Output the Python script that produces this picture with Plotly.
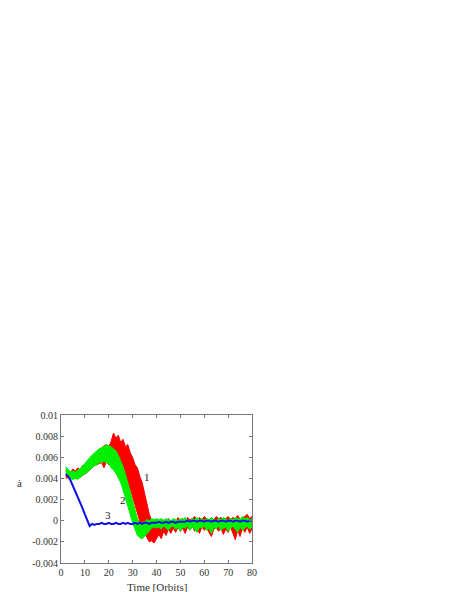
import plotly.graph_objects as go

# time in orbits, one sample per orbit
time = list(range(2, 81))

# curve 1 (red) noisy band: upper / lower envelope
red_upper = [0.0048, 0.0047, 0.0046, 0.0049, 0.0047, 0.0050, 0.0048, 0.0052, 0.0051, 0.0055,
             0.0058, 0.0061, 0.0060, 0.0065, 0.0066, 0.0069, 0.0071, 0.0072, 0.0070, 0.0075,
             0.0083, 0.0078, 0.0081, 0.0074, 0.0077, 0.0070, 0.0072, 0.0064, 0.0060, 0.0053,
             0.0050, 0.0042, 0.0036, 0.0026, 0.0016, 0.0006, 0.0000, -0.0003, -0.0002,
             -0.0001, -0.0003, 0.0001, -0.0002, 0.0002, -0.0001, 0.0001, -0.0002, 0.0003, 0.0000,
             0.0002, -0.0001, 0.0003, 0.0001, 0.0002, 0.0004, 0.0000, 0.0003, 0.0001, 0.0004,
             0.0002, 0.0000, 0.0003, 0.0001, 0.0004, 0.0002, 0.0003, 0.0000, 0.0002, 0.0004,
             0.0001, 0.0003, 0.0002, 0.0005, 0.0001, 0.0003, 0.0004, 0.0006, 0.0002, 0.0004]
red_lower = [0.0040, 0.0041, 0.0039, 0.0041, 0.0040, 0.0042, 0.0041, 0.0043, 0.0044, 0.0046,
             0.0048, 0.0050, 0.0052, 0.0053, 0.0054, 0.0055, 0.0050, 0.0056, 0.0053, 0.0057,
             0.0055, 0.0058, 0.0054, 0.0052, 0.0047, 0.0042, 0.0036, 0.0030, 0.0022, 0.0014,
             0.0006, -0.0002, -0.0008, -0.0012, -0.0016, -0.0020, -0.0019, -0.0021, -0.0017,
             -0.0013, -0.0017, -0.0010, -0.0014, -0.0008, -0.0012, -0.0007, -0.0011, -0.0006, -0.0010,
             -0.0007, -0.0012, -0.0006, -0.0009, -0.0005, -0.0010, -0.0007, -0.0012, -0.0006, -0.0009,
             -0.0007, -0.0011, -0.0015, -0.0008, -0.0006, -0.0010, -0.0007, -0.0013, -0.0008, -0.0011,
             -0.0006, -0.0012, -0.0018, -0.0009, -0.0015, -0.0007, -0.0011, -0.0006, -0.0012, -0.0008]

# curve 2 (green) noisy band
green_upper = [0.0051, 0.0048, 0.0046, 0.0047, 0.0046, 0.0048, 0.0049, 0.0052, 0.0054, 0.0057,
               0.0060, 0.0062, 0.0064, 0.0066, 0.0068, 0.0069, 0.0070, 0.0072, 0.0071, 0.0070,
               0.0068, 0.0066, 0.0062, 0.0057, 0.0051, 0.0044, 0.0036, 0.0028, 0.0019, 0.0010,
               0.0002, -0.0002, -0.0002, -0.0001, 0.0001, 0.0000, 0.0002, 0.0001, 0.0002,
               0.0001, 0.0002, 0.0000, 0.0002, 0.0001, 0.0000, 0.0002, 0.0001, 0.0000, 0.0002,
               0.0001, 0.0003, 0.0001, 0.0000, 0.0002, 0.0001, 0.0003, 0.0001, 0.0002, 0.0000,
               0.0002, 0.0001, 0.0003, 0.0001, 0.0000, 0.0002, 0.0001, 0.0003, 0.0002, 0.0000,
               0.0002, 0.0001, 0.0003, 0.0002, 0.0001, 0.0004, 0.0002, 0.0003, 0.0001, 0.0002]
green_lower = [0.0043, 0.0042, 0.0040, 0.0039, 0.0040, 0.0039, 0.0041, 0.0043, 0.0044, 0.0046,
               0.0048, 0.0050, 0.0052, 0.0053, 0.0055, 0.0055, 0.0056, 0.0055, 0.0054, 0.0050,
               0.0048, 0.0045, 0.0041, 0.0036, 0.0029, 0.0022, 0.0014, 0.0006, -0.0002, -0.0009,
               -0.0014, -0.0016, -0.0017, -0.0015, -0.0012, -0.0009, -0.0007, -0.0006, -0.0007,
               -0.0006, -0.0008, -0.0005, -0.0007, -0.0009, -0.0006, -0.0005, -0.0008, -0.0006, -0.0010,
               -0.0006, -0.0007, -0.0005, -0.0009, -0.0006, -0.0008, -0.0011, -0.0006, -0.0007, -0.0005,
               -0.0009, -0.0007, -0.0012, -0.0006, -0.0008, -0.0005, -0.0009, -0.0007, -0.0006, -0.0010,
               -0.0007, -0.0005, -0.0008, -0.0011, -0.0006, -0.0009, -0.0007, -0.0005, -0.0008, -0.0006]

# curve 3 (blue)
blue = [0.0044, 0.0042, 0.0038, 0.0033, 0.0028, 0.0022, 0.0017, 0.0012, 0.0006, 0.0001,
        -0.0005, -0.0003, -0.0004, -0.0003, -0.0003, -0.0002, -0.0003, -0.0003, -0.0002, -0.0003,
        -0.0003, -0.0002, -0.0003, -0.0003, -0.0002, -0.0003, -0.0002, -0.0003, -0.0003, -0.0002,
        -0.0003, -0.0002, -0.0003, -0.0002, -0.0002, -0.0003, -0.0002, -0.0002, -0.0002, -0.0001,
        -0.0002, -0.0002, -0.0001, -0.0002, -0.0001, -0.0001, -0.0002, -0.0001, -0.0001, -0.0001,
        -0.0001, 0.0000, -0.0001, 0.0000, 0.0000, -0.0001, 0.0000, 0.0000, -0.0001, 0.0000,
        0.0000, -0.0001, 0.0000, 0.0000, -0.0001, 0.0000, 0.0000, -0.0001, 0.0000, 0.0000,
        -0.0001, 0.0000, 0.0000, -0.0001, 0.0000, 0.0000, -0.0001, 0.0000, 0.0000]

y_tickvals = [-0.004, -0.002, 0, 0.002, 0.004, 0.006, 0.008, 0.01]
y_ticktext = ['-0.004', '-0.002', '0', '0.002', '0.004', '0.006', '0.008', '0.01']
x_tickvals = [0, 10, 20, 30, 40, 50, 60, 70, 80]

curve_labels = ['1', '2', '3']
label_t = [36, 26, 19.5]
label_v = [0.0041, 0.0020, 0.0005]

font = 'Liberation Serif'

fig = go.Figure()
for lower, upper, col in [(red_lower, red_upper, '#ff0000'), (green_lower, green_upper, '#00f000')]:
    fig.add_trace(go.Scatter(x=time, y=lower, mode='lines', line={'color': col, 'width': 1},
                             showlegend=False, hoverinfo='skip'))
    fig.add_trace(go.Scatter(x=time, y=upper, mode='lines', line={'color': col, 'width': 1},
                             fill='tonexty', fillcolor=col, showlegend=False, hoverinfo='skip'))

fig.add_trace(go.Scatter(x=time, y=blue, mode='lines', line={'color': '#1010e8', 'width': 2},
                         showlegend=False))

for txt, t, v in zip(curve_labels, label_t, label_v):
    fig.add_annotation(x=t, y=v, text=txt, showarrow=False,
                       font={'family': font, 'size': 11, 'color': '#222'})

fig.add_annotation(xref='paper', yref='paper', x=-0.215, y=0.54, text='ȧ', showarrow=False,
                   xanchor='center', yanchor='middle',
                   font={'family': font, 'size': 11, 'color': '#333'})
fig.add_annotation(xref='paper', yref='paper', x=0.5, y=-0.162, text='Time [Orbits]', showarrow=False,
                   xanchor='center', yanchor='middle',
                   font={'family': font, 'size': 11, 'color': '#333'})

axis_style = {
    'showline': True,
    'linecolor': '#777',
    'linewidth': 1,
    'mirror': 'ticks',
    'ticks': 'inside',
    'ticklen': 3,
    'tickcolor': '#777',
    'showgrid': False,
    'zeroline': False,
    'tickfont': {'family': font, 'size': 10, 'color': '#333'},
}

fig.update_layout(
    width=458,
    height=592,
    margin={'l': 53, 'r': 214, 't': 407, 'b': 37},
    plot_bgcolor='white',
    paper_bgcolor='white',
    showlegend=False,
)
fig.update_xaxes(range=[0, 80], tickvals=x_tickvals, **axis_style)
fig.update_yaxes(range=[-0.004, 0.01], tickvals=y_tickvals, ticktext=y_ticktext, **axis_style)

fig.write_html("out.html")
